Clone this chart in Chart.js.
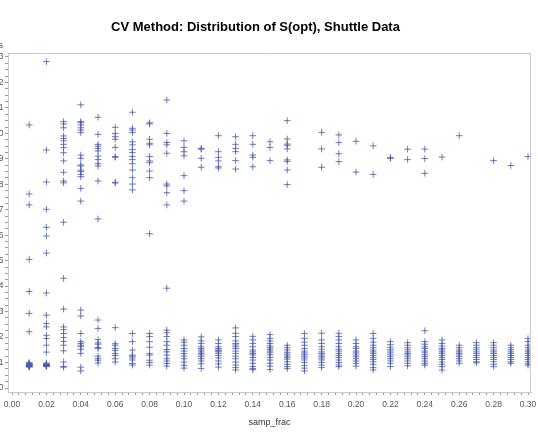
<!DOCTYPE html>
<html><head><meta charset="utf-8">
<script src="https://cdn.jsdelivr.net/npm/chart.js@4/dist/chart.umd.min.js"></script>
<style>
html,body{margin:0;padding:0;background:#fff;overflow:hidden;width:538px;height:432px;}
#wrap{position:absolute;left:-20px;top:0;width:558px;height:432px;}
canvas{display:block;}
</style></head><body>
<div id="wrap"><canvas id="c" width="558" height="432" style="width:558px;height:432px"></canvas></div>
<script>
const chartTitle = 'CV Method: Distribution of S(opt), Shuttle Data';
const xAxisTitle = 'samp_frac';
const yAxisTitle = 's';
const sampFrac = [0.01,0.02,0.03,0.04,0.05,0.06,0.07,0.08,0.09,0.10,0.11,0.12,0.13,0.14,0.15,0.16,0.17,0.18,0.19,0.20,0.21,0.22,0.23,0.24,0.25,0.26,0.27,0.28,0.29,0.30];
const xTickLabels = ['0.00','0.02','0.04','0.06','0.08','0.10','0.12','0.14','0.16','0.18','0.20','0.22','0.24','0.26','0.28','0.30'];
const yTickLabels = ['0','1','2','3','4','5','6','7','8','9','10','11','12','13'];

// S(opt) values for each sampling fraction (same order as sampFrac)
const s01 = [10.33,7.62,7.19,5.05,3.79,2.93,2.21,1.00,0.97,0.95,0.93,0.92,0.90,0.89,0.88,0.87,0.86,0.85,0.84,0.82];
const s02 = [12.82,9.35,8.09,7.02,6.31,5.97,5.30,3.73,2.86,2.53,2.40,2.07,1.94,1.68,1.41,0.98,0.95,0.93,0.92,0.90,0.89,0.88,0.87,0.86,0.84];
const s03 = [10.46,10.37,10.22,9.90,9.80,9.71,9.57,9.44,9.24,8.92,8.47,8.13,8.06,6.51,4.31,3.10,2.40,2.29,2.14,1.98,1.83,1.68,1.46,1.02,0.84,0.82];
const s04 = [11.12,10.46,10.42,10.33,10.22,10.13,10.03,9.15,9.02,8.76,8.72,8.56,8.50,8.39,8.30,7.84,7.34,3.06,2.83,2.14,1.82,1.75,1.68,1.62,1.52,1.36,0.82,0.67];
const s05 = [10.63,9.96,9.57,9.50,9.41,9.31,9.11,8.97,8.81,8.72,8.13,6.64,2.67,2.34,1.90,1.77,1.72,1.59,1.55,1.25,1.15,1.09,0.98];
const s06 = [10.24,10.00,9.87,9.77,9.45,9.09,9.06,8.08,8.05,2.37,1.74,1.68,1.55,1.48,1.35,1.28,1.15,1.02];
const s07 = [10.83,10.20,10.13,10.03,9.67,9.55,9.37,9.25,9.09,8.97,8.81,8.56,8.26,8.01,7.78,2.14,1.82,1.49,1.29,1.25,1.18,1.10,0.96,0.90];
const s08 = [10.42,10.37,9.77,9.61,9.55,9.09,8.92,8.85,8.52,8.26,6.06,2.14,2.02,1.82,1.60,1.35,1.29,1.09,1.00,0.90];
const s09 = [11.31,10.00,9.64,9.55,9.22,8.01,7.94,7.67,7.19,3.92,2.27,2.17,2.02,1.82,1.68,1.51,1.42,1.29,1.15,1.06,0.96,0.86];
const s10 = [9.71,9.45,9.28,9.12,8.34,7.75,7.34,1.89,1.80,1.68,1.55,1.45,1.35,1.25,1.15,1.02,0.89,0.78];
const s11 = [9.41,9.38,9.02,8.67,2.01,1.85,1.75,1.62,1.55,1.49,1.42,1.36,1.30,1.23,1.15,1.06,0.95,0.77];
const s12 = [9.91,9.28,9.06,8.92,8.69,8.64,1.89,1.75,1.62,1.55,1.49,1.46,1.42,1.36,1.28,1.18,1.06,0.95,0.82];
const s13 = [9.87,9.57,9.41,9.28,8.93,8.60,2.36,2.15,2.02,1.85,1.75,1.69,1.62,1.55,1.45,1.36,1.25,1.15,1.02,0.90,0.80,0.71];
const s14 = [9.91,9.57,9.15,9.06,8.69,2.03,1.89,1.75,1.62,1.49,1.42,1.36,1.30,1.20,1.10,0.97,0.84,0.76,0.72];
const s15 = [9.67,9.45,8.93,2.10,1.95,1.85,1.75,1.65,1.58,1.52,1.45,1.38,1.30,1.20,1.10,0.97,0.86,0.72];
const s16 = [10.50,9.78,9.58,9.53,9.39,8.96,8.90,8.56,7.99,1.68,1.58,1.49,1.40,1.33,1.26,1.20,1.13,1.03,0.93,0.84,0.76];
const s17 = [2.14,1.95,1.80,1.68,1.55,1.45,1.38,1.32,1.25,1.18,1.10,1.00,0.88,0.78,0.67];
const s18 = [10.04,9.39,8.67,2.15,1.89,1.75,1.62,1.52,1.42,1.36,1.30,1.23,1.17,1.10,1.00,0.90,0.80];
const s19 = [9.94,9.64,9.20,8.89,2.15,2.02,1.89,1.75,1.62,1.52,1.45,1.36,1.28,1.20,1.10,1.00,0.90,0.84];
const s20 = [9.69,8.48,1.89,1.75,1.62,1.55,1.45,1.38,1.30,1.23,1.15,1.06,0.97,0.86];
const s21 = [9.51,8.39,2.14,1.95,1.80,1.68,1.58,1.49,1.42,1.36,1.28,1.20,1.12,1.03,0.93,0.80,0.71];
const s22 = [9.05,9.02,1.82,1.70,1.60,1.52,1.45,1.38,1.30,1.23,1.15,1.06,0.97,0.84];
const s23 = [9.38,8.97,1.78,1.68,1.58,1.50,1.42,1.36,1.30,1.23,1.15,1.06,0.97,0.87];
const s24 = [9.38,9.01,8.43,2.25,1.82,1.72,1.62,1.55,1.45,1.38,1.30,1.23,1.15,1.06,0.97,0.90];
const s25 = [9.07,1.89,1.75,1.65,1.55,1.49,1.42,1.36,1.28,1.20,1.12,1.02,0.93,0.84,0.70];
const s26 = [9.91,1.68,1.58,1.49,1.42,1.36,1.30,1.23,1.15,1.06,0.97];
const s27 = [1.78,1.68,1.58,1.50,1.42,1.36,1.28,1.20,1.12,1.03,0.99];
const s28 = [8.93,1.78,1.68,1.58,1.49,1.42,1.36,1.28,1.20,1.12,1.03,0.93,0.84];
const s29 = [8.74,1.68,1.58,1.50,1.42,1.36,1.28,1.20,1.12,1.03,0.97];
const s30 = [9.09,1.94,1.82,1.68,1.58,1.49,1.42,1.36,1.28,1.20,1.12,1.03,0.95,0.90];

const sByFrac = [s01,s02,s03,s04,s05,s06,s07,s08,s09,s10,s11,s12,s13,s14,s15,s16,s17,s18,s19,s20,s21,s22,s23,s24,s25,s26,s27,s28,s29,s30];

const points = [];
sByFrac.forEach((vals, i) => vals.forEach(v => points.push({x: sampFrac[i], y: v})));

// tick positions: majors carry labels, minors unlabeled
const xTickVals = [];
for (let k = 0; k <= 75; k++) xTickVals.push(+(k * 0.004).toFixed(3));
const yTickVals = [];
for (let k = 0; k <= 52; k++) yTickVals.push(k * 0.25);

const FONT = "'Liberation Sans', Arial, sans-serif";
const AXIS = '#c9c9c9';

const framePlugin = {
  id: 'frame',
  afterDraw(chart) {
    const {ctx, chartArea: a} = chart;
    ctx.save();
    ctx.strokeStyle = AXIS;
    ctx.lineWidth = 1;
    ctx.beginPath();
    ctx.moveTo(a.left, a.top + 0.5);
    ctx.lineTo(a.right - 0.5, a.top + 0.5);
    ctx.lineTo(a.right - 0.5, a.bottom);
    ctx.stroke();
    ctx.fillStyle = '#444';
    ctx.font = '9px ' + FONT;
    ctx.textAlign = 'right';
    ctx.textBaseline = 'middle';
    ctx.fillText(yAxisTitle, a.left - 5, a.top - 7);
    ctx.restore();
  }
};

new Chart(document.getElementById('c'), {
  type: 'scatter',
  data: {
    datasets: [{
      data: points,
      pointStyle: 'cross',
      pointRadius: 3.3,
      pointBorderWidth: 1,
      borderColor: 'rgba(72,90,168,0.8)',
      backgroundColor: 'rgba(72,90,168,0.8)',
      pointHoverRadius: 3.3
    }]
  },
  options: {
    responsive: false,
    animation: false,
    devicePixelRatio: 1,
    events: [],
    layout: {padding: {left: 0, right: 7, top: 0, bottom: 0}},
    plugins: {
      legend: {display: false},
      tooltip: {enabled: false},
      title: {
        display: true,
        text: chartTitle,
        color: '#000',
        font: {family: FONT, size: 13, weight: 'bold'},
        padding: {top: 20, bottom: 17.4}
      }
    },
    scales: {
      x: {
        type: 'linear',
        min: -0.00233,
        max: 0.30174,
        afterBuildTicks: s => { s.ticks = xTickVals.map(v => ({value: v})); },
        afterFit: s => { s.height = 40; s.paddingLeft = 0; s.paddingRight = 0; },
        ticks: {
          autoSkip: false,
          maxRotation: 0,
          padding: 5,
          color: '#555',
          font: {family: FONT, size: 8.5},
          callback: (v, i) => (i % 5 === 0 ? xTickLabels[i / 5] : '')
        },
        grid: {display: true, drawOnChartArea: false, tickLength: 3, tickColor: '#9a9a9a'},
        border: {display: true, color: AXIS},
        title: {display: true, text: xAxisTitle, color: '#333', font: {family: FONT, size: 9}, padding: {top: 0, bottom: 4.5}}
      },
      y: {
        type: 'linear',
        min: -0.157,
        max: 13.157,
        afterBuildTicks: s => { s.ticks = yTickVals.map(v => ({value: v})); },
        afterFit: s => { s.width = 28; s.paddingTop = 0; s.paddingBottom = 0; },
        ticks: {
          autoSkip: false,
          padding: 1.5,
          color: '#555',
          font: {family: FONT, size: 8.5},
          callback: (v, i) => (i % 4 === 0 ? yTickLabels[i / 4] : '')
        },
        grid: {display: true, drawOnChartArea: false, tickLength: 3, tickColor: '#9a9a9a'},
        border: {display: true, color: AXIS}
      }
    }
  },
  plugins: [framePlugin]
});
</script>
</body></html>
